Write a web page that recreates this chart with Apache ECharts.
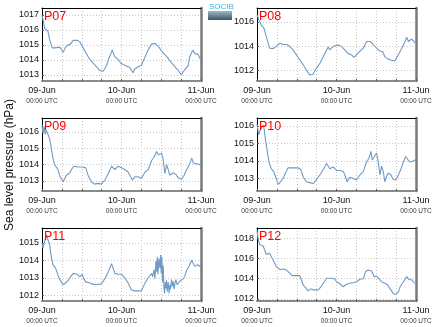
<!DOCTYPE html>
<html><head><meta charset="utf-8">
<script src="https://cdn.jsdelivr.net/npm/echarts@6/dist/echarts.min.js"></script>
<style>html,body{margin:0;padding:0;background:#fff}#c{width:435px;height:327px}</style>
</head><body><div id="c"></div>
<script>
// Data: [hour since 09-Jun 00:00 UTC, sea level pressure hPa]
const stations = ['P07','P08','P09','P10','P11','P12'];
const xTickLabels = ['09-Jun','10-Jun','11-Jun'];
const xSubLabel = '00:00 UTC';
const yTicks = {
  P07:[1013,1014,1015,1016,1017],
  P08:[1012,1014,1016],
  P09:[1013,1014,1015,1016],
  P10:[1013,1014,1015,1016],
  P11:[1012,1013,1014,1015],
  P12:[1012,1014,1016,1018]
};
const yRange = {
  P07:[1012.6,1017.45], P08:[1011.15,1017.15], P09:[1012.38,1016.86],
  P10:[1012.27,1016.46], P11:[1011.67,1015.85], P12:[1011.8,1019.0]
};
const p07 = [[0,1016.95],[0.4,1016.6],[0.8,1016.1],[1.3,1016.0],[1.8,1015.9],[2.3,1015.35],[2.8,1015.0],[3.1,1014.8],[3.8,1014.8],[4.3,1014.85],[5.3,1014.85],[5.9,1014.7],[6.4,1014.5],[7.1,1014.85],[7.9,1015.0],[8.6,1015.05],[9.4,1015.3],[10.7,1015.3],[11.4,1015.2],[12.4,1014.8],[13.6,1014.35],[14.4,1014.05],[15.4,1013.8],[16.4,1013.55],[17.4,1013.3],[18.4,1013.25],[19.3,1013.55],[20.2,1014.1],[21.2,1014.65],[21.5,1014.6],[22.0,1014.2],[23.0,1014.05],[23.7,1013.8],[24.5,1013.7],[25.5,1013.6],[26.5,1013.5],[27.5,1013.15],[28.0,1013.4],[29.0,1013.55],[30.0,1013.65],[31.1,1014.2],[32.1,1014.7],[33.1,1015.05],[34.1,1015.1],[35.1,1014.9],[36.1,1014.6],[37.1,1014.35],[38.1,1014.1],[39.1,1013.8],[40.1,1013.55],[41.1,1013.3],[42.1,1013.0],[42.6,1013.2],[43.3,1013.4],[44.1,1013.6],[44.6,1014.2],[45.5,1014.65],[46.2,1014.4],[47.0,1014.4],[47.7,1014.1],[48,1014.0]];
const p08 = [[0,1016.6],[0.6,1016.15],[1.3,1015.75],[2.1,1015.5],[2.8,1014.8],[3.8,1013.85],[4.8,1013.8],[5.8,1014.0],[6.9,1014.25],[7.9,1014.15],[8.9,1014.15],[9.9,1014.0],[10.9,1013.7],[11.9,1013.3],[12.9,1012.9],[13.9,1012.5],[14.9,1012.05],[15.9,1011.65],[16.9,1011.7],[17.9,1012.2],[19.0,1012.6],[20.0,1013.15],[21.0,1013.7],[21.5,1013.95],[22.0,1013.7],[23.0,1014.0],[24.5,1014.1],[25.5,1014.0],[26.5,1013.7],[27.5,1013.4],[28.5,1013.3],[29.3,1013.1],[30.0,1013.3],[31.1,1013.6],[32.1,1013.85],[33.1,1014.4],[34.1,1014.4],[35.1,1014.15],[36.1,1013.85],[37.1,1013.6],[37.9,1013.6],[38.6,1013.15],[39.6,1012.95],[40.6,1012.85],[41.6,1012.8],[42.1,1012.9],[42.7,1013.3],[43.7,1013.85],[44.7,1014.4],[45.2,1014.75],[45.7,1014.4],[46.7,1014.6],[47.7,1014.3],[48,1014.25]];
const p09 = [[0,1016.45],[0.3,1015.95],[0.6,1016.35],[1.0,1015.85],[1.3,1016.1],[1.8,1016.0],[2.3,1015.6],[2.8,1015.0],[3.3,1014.4],[3.8,1014.0],[4.8,1013.7],[5.5,1013.25],[6.4,1012.95],[6.9,1013.05],[7.4,1013.35],[8.4,1013.5],[8.9,1013.7],[9.6,1013.9],[10.9,1013.85],[12.4,1013.85],[13.2,1013.8],[13.9,1013.35],[14.9,1012.95],[15.9,1012.8],[16.9,1012.85],[17.9,1012.8],[19.0,1013.05],[20.0,1013.45],[21.0,1013.9],[21.5,1014.0],[22.0,1013.7],[22.5,1013.7],[23.0,1013.9],[24.0,1013.8],[25.0,1013.7],[26.0,1013.55],[26.5,1013.45],[27.3,1013.05],[28.0,1013.25],[29.0,1013.25],[30.0,1013.15],[31.1,1013.55],[32.1,1013.7],[33.1,1014.25],[33.8,1014.45],[34.6,1014.8],[35.1,1014.6],[35.6,1014.5],[36.1,1014.7],[36.6,1014.3],[37.1,1013.45],[37.6,1014.0],[38.1,1013.7],[38.6,1013.35],[39.1,1013.25],[39.6,1013.5],[40.4,1013.4],[41.1,1013.2],[42.1,1013.1],[42.9,1013.35],[43.7,1013.7],[44.5,1014.0],[45.2,1014.4],[45.7,1014.1],[46.7,1014.05],[47.7,1014.0],[48,1013.95]];
const p10 = [[0,1016.1],[0.5,1015.5],[1.0,1015.8],[1.5,1015.75],[2.0,1016.05],[2.5,1015.3],[3.1,1014.55],[3.6,1013.95],[4.3,1013.55],[5.0,1013.4],[5.6,1013.1],[6.4,1012.65],[7.1,1012.8],[7.9,1013.0],[8.6,1013.3],[9.4,1013.6],[10.9,1013.6],[12.4,1013.6],[13.2,1013.5],[13.9,1013.1],[14.9,1012.8],[15.9,1012.75],[16.9,1012.7],[17.9,1012.9],[19.0,1013.2],[20.0,1013.5],[21.0,1013.85],[21.5,1013.9],[22.0,1013.55],[23.0,1013.65],[24.0,1013.45],[25.0,1013.45],[26.0,1013.4],[26.5,1013.2],[27.2,1012.8],[28.0,1013.05],[29.0,1013.0],[30.0,1012.9],[31.1,1013.2],[32.1,1013.4],[33.1,1013.95],[33.8,1014.15],[34.4,1014.55],[34.8,1014.05],[35.4,1014.15],[36.1,1014.45],[36.6,1013.95],[37.1,1013.2],[37.6,1013.7],[38.1,1013.4],[38.6,1012.8],[39.1,1013.1],[39.6,1013.3],[40.4,1013.2],[41.1,1012.95],[41.9,1012.9],[42.7,1013.2],[43.5,1013.55],[44.2,1013.95],[44.9,1014.25],[45.5,1014.35],[46.0,1013.95],[46.7,1013.95],[47.7,1014.05],[48,1014.0]];
const p11 = [[0,1015.0],[0.3,1014.7],[0.8,1014.6],[1.3,1015.45],[1.8,1015.55],[2.3,1014.9],[2.8,1014.2],[3.3,1013.75],[4.1,1013.55],[4.8,1013.15],[5.5,1012.85],[6.4,1012.6],[7.1,1012.7],[7.9,1012.85],[8.6,1013.05],[9.4,1013.25],[10.6,1013.2],[11.4,1013.05],[12.1,1013.2],[12.6,1012.95],[13.2,1012.75],[13.9,1012.75],[14.9,1012.65],[16.4,1012.6],[17.9,1012.65],[19.0,1012.95],[20.0,1013.35],[21.0,1013.8],[21.5,1013.75],[22.0,1013.25],[23.0,1013.2],[24.0,1013.2],[25.0,1013.0],[26.0,1012.7],[27.0,1012.3],[28.0,1012.25],[29.0,1012.25],[30.0,1012.25],[30.6,1012.3],[31.1,1012.7],[32.1,1013.0],[33.1,1013.25],[33.4,1013.05],[33.8,1013.45],[34.1,1012.95],[34.4,1013.95],[34.6,1013.35],[34.8,1014.2],[35.0,1013.2],[35.3,1014.1],[35.6,1013.55],[35.8,1014.3],[36.0,1013.25],[36.2,1014.2],[36.4,1012.75],[36.6,1013.7],[36.8,1012.45],[37.0,1012.1],[37.2,1012.75],[37.4,1012.4],[37.6,1012.85],[37.8,1012.2],[38.1,1012.75],[38.4,1012.1],[38.6,1012.6],[38.8,1012.35],[39.1,1012.9],[39.4,1012.5],[39.6,1012.8],[39.9,1012.35],[40.1,1012.65],[40.4,1012.9],[40.8,1012.6],[41.1,1012.7],[41.6,1012.8],[42.1,1012.8],[42.7,1012.95],[43.2,1013.15],[43.7,1013.45],[44.5,1013.7],[45.2,1014.0],[45.7,1013.8],[46.2,1013.65],[46.9,1013.75],[47.7,1013.65],[48,1013.7]];
const p12 = [[0,1018.8],[0.3,1018.0],[0.8,1017.35],[1.3,1017.2],[1.8,1017.25],[2.3,1016.85],[2.8,1016.4],[3.8,1016.5],[4.3,1016.2],[5.1,1015.7],[5.8,1015.2],[6.9,1014.9],[7.9,1014.95],[8.9,1014.85],[9.9,1014.55],[10.6,1014.3],[11.9,1014.3],[12.9,1014.3],[13.4,1013.9],[13.9,1013.4],[14.9,1013.05],[15.4,1012.8],[16.2,1013.0],[16.9,1012.9],[17.4,1012.8],[18.5,1012.9],[19.3,1013.2],[20.0,1013.55],[21.0,1014.05],[21.5,1014.0],[22.5,1014.05],[23.5,1013.95],[24.0,1013.7],[25.0,1013.5],[26.0,1013.2],[27.0,1013.45],[28.0,1013.55],[29.0,1013.6],[30.0,1013.7],[31.1,1013.95],[32.1,1014.0],[32.8,1014.7],[33.6,1014.85],[34.6,1014.75],[35.4,1014.2],[36.1,1014.25],[36.6,1014.2],[37.6,1013.7],[38.6,1013.55],[39.4,1013.4],[40.1,1013.05],[41.1,1012.55],[41.9,1012.45],[42.7,1012.7],[43.2,1013.2],[44.2,1013.7],[45.2,1014.2],[45.9,1013.9],[46.7,1013.9],[47.5,1013.6],[48,1013.55]];
const seriesData = {P07:p07,P08:p08,P09:p09,P10:p10,P11:p11,P12:p12};

const chart = echarts.init(document.getElementById('c'), null, {renderer:'canvas'});
const FONT = 'Liberation Sans, Arial, sans-serif';
const lefts = [42, 257], tops = [8, 118, 228];
const W = 159, H = 73;
const grid = [], xAxis = [], yAxis = [], series = [], graphic = [];
stations.forEach((st, i) => {
  const col = i % 2, row = Math.floor(i / 2);
  grid.push({left: lefts[col], top: tops[row], width: W, height: H, containLabel: false});
  // bottom axis
  xAxis.push({
    type: 'value', gridIndex: i, min: 0, max: 48, interval: 6,
    axisLine: {show: true, onZero: false, lineStyle: {color: '#8a8a8a', width: 2}},
    axisTick: {show: true, inside: true, length: 2, lineStyle: {color: '#555'}},
    splitLine: {show: true, lineStyle: {color: '#c8c8c8', type: [1, 2], width: 1}},
    axisLabel: {
      show: true, margin: 4, showMinLabel: true, showMaxLabel: true,
      formatter: v => (v % 24 === 0) ? '{a|' + xTickLabels[v / 24] + '}\n{b|' + xSubLabel + '}' : '',
      rich: {
        a: {fontFamily: FONT, fontSize: 9, color: '#111', lineHeight: 11},
        b: {fontFamily: FONT, fontSize: 6.5, color: '#333', lineHeight: 11}
      }
    }
  });
  // top frame
  xAxis.push({
    type: 'value', gridIndex: i, position: 'top', min: 0, max: 48,
    axisLine: {show: true, onZero: false, lineStyle: {color: '#000', width: 1}},
    axisTick: {show: false}, axisLabel: {show: false}, splitLine: {show: false}
  });
  const r = yRange[st];
  yAxis.push({
    type: 'value', gridIndex: i, min: r[0], max: r[1],
    axisLine: {show: true, onZero: false, lineStyle: {color: '#000', width: 1}},
    axisTick: {show: true, inside: true, length: 2, customValues: yTicks[st], lineStyle: {color: '#555'}},
    splitLine: {show: true, lineStyle: {color: '#c8c8c8', type: [1, 2], width: 1}},
    axisLabel: {show: true, customValues: yTicks[st], margin: 3, fontFamily: FONT, fontSize: 9, color: '#111',
      formatter: v => String(Math.round(v))}
  });
  // right frame
  yAxis.push({
    type: 'value', gridIndex: i, position: 'right', min: r[0], max: r[1],
    axisLine: {show: true, onZero: false, lineStyle: {color: '#7a7a7a', width: 2.5}},
    axisTick: {show: false}, axisLabel: {show: false}, splitLine: {show: false}
  });
  series.push({
    type: 'line', xAxisIndex: 2 * i, yAxisIndex: 2 * i, data: seriesData[st],
    showSymbol: false, symbol: 'none', smooth: false, animation: false,
    lineStyle: {color: '#6f9bc6', width: 1.1}
  });
  graphic.push({
    type: 'text', left: lefts[col] + 2, top: tops[row] + 2, z: 100,
    style: {text: st, fontFamily: FONT, fontSize: 12.5, fill: '#ff0000'}
  });
});
// y axis title
graphic.push({
  type: 'text', x: 4, y: 165, rotation: Math.PI / 2,
  style: {text: 'Sea level pressure (hPa)', fontFamily: FONT, fontSize: 12, fill: '#111',
    align: 'center', verticalAlign: 'top'}
});
// logo
graphic.push({
  type: 'rect', shape: {x: 208, y: 11, width: 24, height: 9},
  style: {fill: new echarts.graphic.LinearGradient(0, 0, 0, 1, [
    {offset: 0, color: '#9fb8c4'}, {offset: 1, color: '#3c5564'}])}
});
graphic.push({
  type: 'text', x: 209, y: 3,
  style: {text: 'SOCIB', fontFamily: FONT, fontSize: 8, fill: '#38b6d6'}
});
chart.setOption({
  animation: false,
  backgroundColor: '#fff',
  grid, xAxis, yAxis, series, graphic
});
</script></body></html>
